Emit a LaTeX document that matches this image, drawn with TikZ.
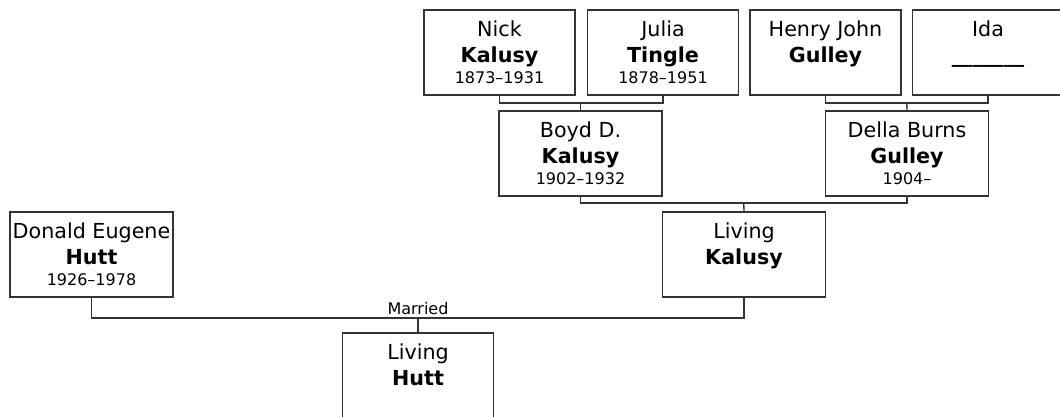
\documentclass[tikz,border=0pt]{standalone}
\usepackage{fontspec}
\setmainfont{DejaVu Sans}
\usetikzlibrary{positioning}

\newcommand{\namefont}{\fontsize{15.5}{19.5}\selectfont}
\newcommand{\datefont}{\fontsize{12}{14}\selectfont}
\newcommand{\person}[3]{#1\\\textbf{#2}\\[-3.5pt]{\datefont #3\vphantom{1}}}

\begin{document}
\begin{tikzpicture}[x=0.75pt, y=-0.75pt,
                box/.style={rectangle, draw=black!80, line width=1pt, align=center, font=\namefont,
                            inner sep=0pt, minimum width=122.25pt, minimum height=63.75pt},
                narrowbox/.style={box, minimum width=113.25pt},
                link/.style={draw=black!80, line width=1pt}]
                
                \useasboundingbox (0,0) rectangle (1060,417);
                
                % grandparents
                \node[narrowbox] (nick) at (499.5,52.5) {\person{Nick}{Kalusy}{1873--1931}};
                \node[narrowbox] (julia) at (663,52.5) {\person{Julia}{Tingle}{1878--1951}};
                \node[narrowbox] (henry) at (825.5,52.5) {\person{Henry John}{Gulley}{}};
                \node[narrowbox] (ida) at (988,52.5) {\person{Ida}{\_\_\_\_\_\_\_}{}};
                
                % parents
                \node[box] (boyd) at (580.5,153.5) {\person{Boyd D.}{Kalusy}{1902--1932}};
                \node[box] (della) at (907,153.5) {\person{Della Burns}{Gulley}{1904--}};
                
                \node[box] (donald) at (91.5,254.5) {\person{Donald Eugene}{Hutt}{1926--1978}};
                \node[box] (kalusy) at (744,254.5) {\person{Living}{Kalusy}{}};
                
                \node[narrowbox] (hutt) at (418,375.5) {\person{Living}{Hutt}{}};
                
                \coordinate (m1) at (580.5,103);
                \coordinate (m2) at (906.75,103);
                \coordinate (m3) at (743.75,203);
                \coordinate (m4) at (418,318);
                
                \draw[link] (nick.south) |- (m1) -| (julia.south);
                \draw[link] (m1) -- (boyd.north);
                \draw[link] (henry.south) |- (m2) -| (ida.south);
                \draw[link] (m2) -- (della.north);
                \draw[link] (boyd.south) |- (m3) -| (della.south);
                \draw[link] (m3) -- (kalusy.north);
                \draw[link] (donald.south) |- (m4) -| (kalusy.south);
                \draw[link] (m4) -- (hutt.north);
                
                \node[font=\datefont, inner sep=0pt, above=2pt of m4] (married) {Married};
            \end{tikzpicture}
\end{document}
